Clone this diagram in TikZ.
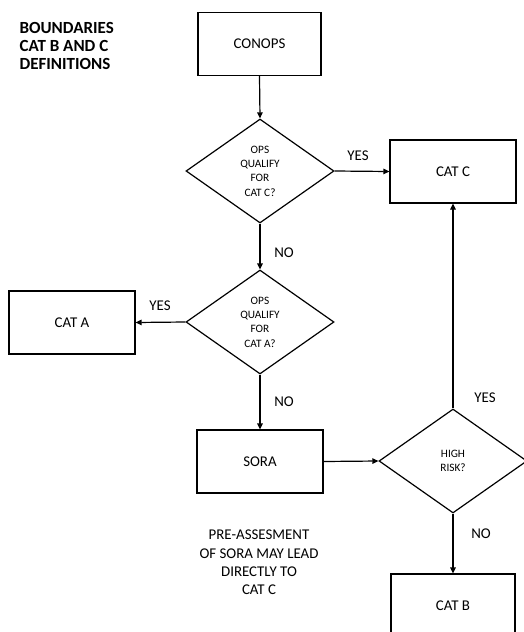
\documentclass[tikz,border=0pt]{standalone}
\usepackage{fontspec}
\setmainfont{Carlito}
\usetikzlibrary{shapes.geometric,arrows.meta}
\begin{document}
\begin{tikzpicture}[x=1pt,y=-1pt,
  line width=1.2pt,
  box/.style={draw,rectangle,inner sep=0pt,minimum width=126pt,minimum height=63pt,
    font=\fontsize{14.9}{18}\selectfont},
  decision/.style={draw,diamond,inner sep=0pt,aspect=1.42,minimum width=148pt,minimum height=104pt,
    align=center,font=\fontsize{11.3}{14.4}\selectfont},
  lbl/.style={inner sep=0pt,font=\fontsize{14.9}{18}\selectfont},
  flow/.style={-{Triangle[length=6pt,width=5.5pt]}},
]
\clip (0,0) rectangle (524,632);
\fill[white] (0,0) rectangle (524,632);

% heading
\node[anchor=west,align=left,inner sep=0pt,font=\fontsize{17}{18.3}\selectfont\bfseries]
  (title) at (19,46) {BOUNDARIES\\CAT B AND C\\DEFINITIONS};

% process boxes and decisions
\node[box,minimum width=123pt] (conops) at (259.5,44) {CONOPS};
\node[decision] (qc) at (260,171) {OPS\\QUALIFY\\FOR\\CAT C?};
\node[box] (catc) at (453,171.5) {CAT C};
\node[decision] (qa) at (260,322) {OPS\\QUALIFY\\FOR\\CAT A?};
\node[box] (cata) at (72,322.5) {CAT A};
\node[box] (sora) at (260,461.5) {SORA};
\node[decision] (risk) at (453,461) {HIGH\\RISK?};
\node[box,minimum width=124pt] (catb) at (453,605.5) {CAT B};

% side note
\node[align=center,inner sep=0pt,font=\fontsize{14.9}{18.3}\selectfont]
  (note) at (259,562.5) {PRE-ASSESMENT\\OF SORA MAY LEAD\\DIRECTLY TO\\CAT C};

% connectors
\draw[flow] (conops.south) -- (qc.north);
\draw[flow] (qc.east) -- (catc.west);
\draw[flow] (qc.south) -- (qa.north);
\draw[flow] (qa.west) -- (cata.east);
\draw[flow] (qa.south) -- (sora.north);
\draw[flow] (sora.east) -- (risk.west);
\draw[flow] (risk.north) -- (catc.south);
\draw[flow] (risk.south) -- (catb.north);

% branch labels
\node[lbl] (yes1) at (358,156) {YES};
\node[lbl] (no1) at (284,253) {NO};
\node[lbl] (yes2) at (160,306) {YES};
\node[lbl] (no2) at (284,402) {NO};
\node[lbl] (yes3) at (485,398) {YES};
\node[lbl] (no3) at (481,534) {NO};
\end{tikzpicture}
\end{document}
